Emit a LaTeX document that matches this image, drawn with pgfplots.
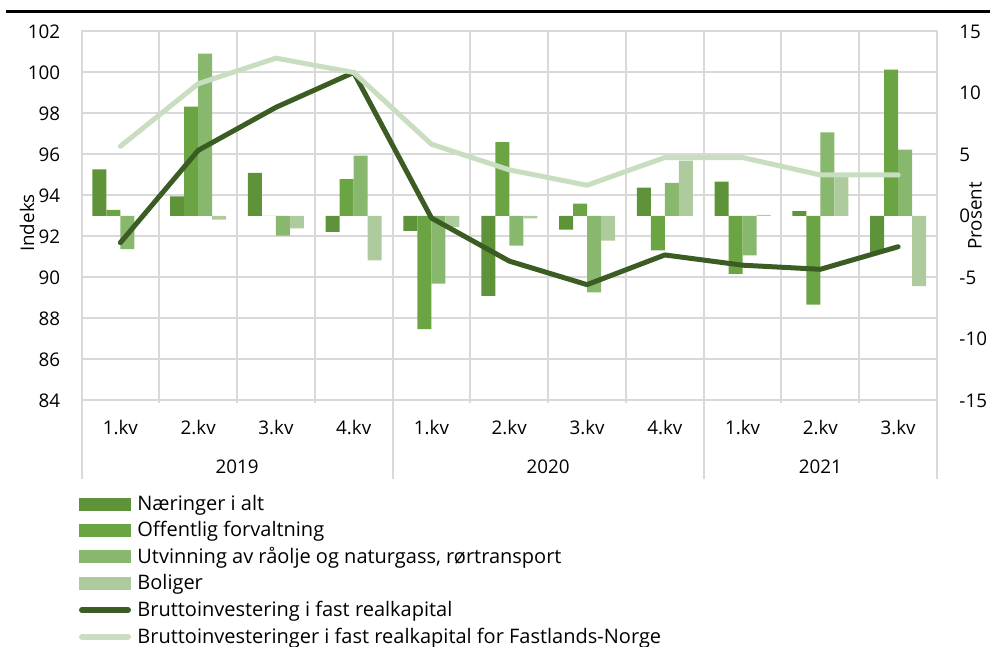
\documentclass[border=0pt]{standalone}
\usepackage{fontspec}
\setmainfont{Open Sans}
\usepackage{pgfplots}
\pgfplotsset{compat=1.18}
\definecolor{cA}{HTML}{5F9339}
\definecolor{cB}{HTML}{6BA543}
\definecolor{cC}{HTML}{88B86E}
\definecolor{cD}{HTML}{ADCB9C}
\definecolor{cDark}{HTML}{3B5D23}
\definecolor{cLight}{HTML}{C9DEC1}
\definecolor{gridc}{HTML}{D9D9D9}
\pgfplotsset{
  base/.style={at={(40.75pt,123.25pt)}, anchor=south west, scale only axis,
    width=427.75pt, height=184.5pt, xmin=-0.5, xmax=10.5,
    /pgf/number format/assume math mode=true,
    major tick length=0pt, minor tick length=0pt}
}
\begin{document}
\fontsize{9.4}{11.3}\selectfont
\begin{tikzpicture}
\useasboundingbox (0,0) rectangle (495pt,323.5pt);
\draw[line width=1.5pt] (3pt,317.6pt) -- (495pt,317.6pt);

% grid axis (index scale)
\begin{axis}[base, ymin=84, ymax=102, ytick={84,86,...,102},
  xtick={0,...,10},
  xticklabels={1.kv,2.kv,3.kv,4.kv,1.kv,2.kv,3.kv,4.kv,1.kv,2.kv,3.kv},
  minor xtick={0.5,1.5,...,9.5}, xminorgrids=true, ymajorgrids=true,
  grid style={draw=gridc, line width=1pt},
  minor grid style={draw=gridc, line width=1pt},
  axis line style={draw=gridc, line width=1pt},
  xtick pos=bottom, ytick pos=left,
  yticklabel style={xshift=-7.4pt},
  xticklabel style={anchor=center, yshift=-13.6pt},
  clip=false]
\addplot[draw=none] coordinates {(0,90)};
\foreach \s in {-0.5,3.5,7.5,10.5} {
  \edef\tmp{\noexpand\draw[gridc, line width=1pt] (axis cs:\s,84) -- ++(0pt,-39.5pt);}
  \tmp
}
\foreach \s in {0.5,1.5,2.5,4.5,5.5,6.5,8.5,9.5} {
  \edef\tmp{\noexpand\draw[gridc, line width=1pt] (axis cs:\s,84) -- ++(0pt,-1.5pt);}
  \tmp
}
\node at (axis cs:1.5,84) [yshift=-32.9pt] {2019};
\node at (axis cs:5.5,84) [yshift=-32.9pt] {2020};
\node at (axis cs:9,84) [yshift=-32.9pt] {2021};
\end{axis}

% bars (percent scale, right axis)
\begin{axis}[base, ymin=-15, ymax=15,
  axis y line*=right, axis x line=none,
  y axis line style={draw=none},
  ytick={-15,-10,...,15},
  yticklabels={-15,-10,-5,0,5,10,15},
  yticklabel style={xshift=7.9pt},
  xtick=\empty,
  ybar=0pt, bar width=7pt]
\addplot[fill=cA, draw=none] coordinates {(0,3.8) (1,1.6) (2,3.5) (3,-1.3) (4,-1.2) (5,-6.5) (6,-1.1) (7,2.3) (8,2.8) (9,0.4) (10,-3.0)};
\addplot[fill=cB, draw=none] coordinates {(0,0.5) (1,8.9) (2,0) (3,3.0) (4,-9.2) (5,6.0) (6,1.0) (7,-2.8) (8,-4.7) (9,-7.2) (10,11.9)};
\addplot[fill=cC, draw=none] coordinates {(0,-2.7) (1,13.2) (2,-1.6) (3,4.9) (4,-5.5) (5,-2.4) (6,-6.2) (7,2.7) (8,-3.2) (9,6.8) (10,5.4)};
\addplot[fill=cD, draw=none] coordinates {(0,0) (1,-0.3) (2,-1.0) (3,-3.6) (4,-0.9) (5,-0.2) (6,-2.0) (7,4.5) (8,0.1) (9,3.2) (10,-5.7)};
\end{axis}

% lines (index scale)
\begin{axis}[base, ymin=84, ymax=102, hide axis]
\addplot[cDark, line width=2.5pt, line cap=round, line join=round] coordinates {(0,91.7) (1,96.2) (2,98.3) (3,100) (4,92.9) (5,90.8) (6,89.65) (7,91.1) (8,90.6) (9,90.4) (10,91.5)};
\addplot[cLight, line width=2.5pt, line cap=round, line join=round] coordinates {(0,96.4) (1,99.45) (2,100.7) (3,100) (4,96.5) (5,95.25) (6,94.5) (7,95.85) (8,95.85) (9,95.0) (10,95.0)};
\end{axis}

\node[rotate=90] at (13.5pt,212pt) {Indeks};
\node[rotate=90] at (487.5pt,215.5pt) {Prosent};

% legend
\begingroup
\fontsize{10}{12}\selectfont
\fill[cA] (39.5pt,68pt) rectangle (65.5pt,74.5pt);
\node[anchor=base west, inner sep=0pt] at (68.5pt,68pt) {Næringer i alt};
\fill[cB] (39.5pt,55pt) rectangle (65.5pt,61.5pt);
\node[anchor=base west, inner sep=0pt] at (68.5pt,55pt) {Offentlig forvaltning};
\fill[cC] (39.5pt,41.75pt) rectangle (65.5pt,48.25pt);
\node[anchor=base west, inner sep=0pt] at (68.5pt,41.75pt) {Utvinning av råolje og naturgass, rørtransport};
\fill[cD] (39.5pt,28.6pt) rectangle (65.5pt,35.1pt);
\node[anchor=base west, inner sep=0pt] at (68.5pt,28.6pt) {Boliger};
\draw[cDark, line width=3pt, line cap=round] (41pt,18.5pt) -- (64pt,18.5pt);
\node[anchor=base west, inner sep=0pt] at (68.5pt,15.25pt) {Bruttoinvestering i fast realkapital};
\draw[cLight, line width=3pt, line cap=round] (41pt,5.15pt) -- (64pt,5.15pt);
\node[anchor=base west, inner sep=0pt] at (68.5pt,1.9pt) {Bruttoinvesteringer i fast realkapital for Fastlands-Norge};
\endgroup
\end{tikzpicture}
\end{document}
